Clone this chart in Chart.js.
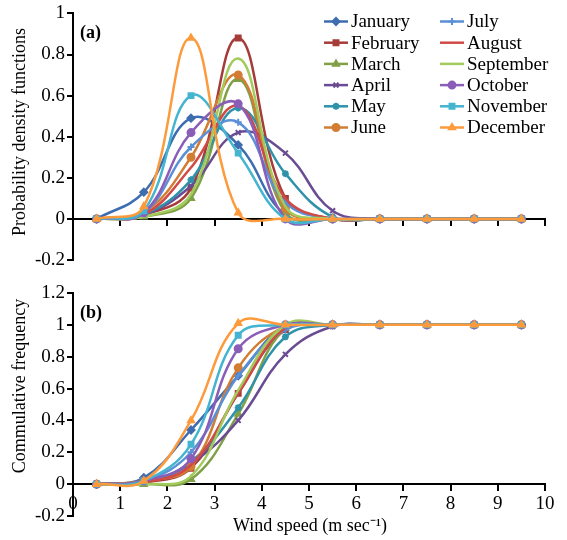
<!DOCTYPE html>
<html>
<head>
<meta charset="utf-8">
<script src="https://cdn.jsdelivr.net/npm/chart.js@4.4.1/dist/chart.umd.min.js"></script>
<style>
  html, body { margin: 0; padding: 0; background: #fff; }
  #wrap { position: relative; width: 567px; height: 540px; }
  #wrap canvas { position: absolute; left: 0; top: 0; }
</style>
</head>
<body>
<div id="wrap">
  <canvas id="pdf" width="567" height="540"></canvas>
  <canvas id="cdf" width="567" height="540"></canvas>
</div>
<script>
// wind speed bins (m/s)
const windSpeed = [0.5, 1.5, 2.5, 3.5, 4.5, 5.5, 6.5, 7.5, 8.5, 9.5]
const months = ["January", "February", "March", "April", "May", "June",
  "July", "August", "September", "October", "November", "December"]

// (a) probability density
const pdfJanuary   = [0, 0.13, 0.49, 0.36, 0.02, 0, 0, 0, 0, 0]
const pdfFebruary  = [0, 0.02, 0.15, 0.88, 0.10, 0, 0, 0, 0, 0]
const pdfMarch     = [0, 0.01, 0.10, 0.68, 0.03, 0, 0, 0, 0, 0]
const pdfApril     = [0, 0.02, 0.16, 0.42, 0.32, 0.04, 0, 0, 0, 0]
const pdfMay       = [0, 0.02, 0.19, 0.54, 0.22, 0.01, 0, 0, 0, 0]
const pdfJune      = [0, 0.03, 0.30, 0.70, 0.05, 0, 0, 0, 0, 0]
const pdfJuly      = [0, 0.03, 0.35, 0.47, 0.08, 0, 0, 0, 0, 0]
const pdfAugust    = [0, 0.02, 0.25, 0.55, 0.10, 0, 0, 0, 0, 0]
const pdfSeptember = [0, 0.01, 0.12, 0.78, 0.06, 0, 0, 0, 0, 0]
const pdfOctober   = [0, 0.03, 0.42, 0.56, 0, 0, 0, 0, 0, 0]
const pdfNovember  = [0, 0.04, 0.60, 0.32, 0, 0, 0, 0, 0, 0]
const pdfDecember  = [0, 0.06, 0.88, 0.03, 0, 0, 0, 0, 0, 0]

// (b) cumulative frequency
const cdfJanuary   = [0, 0.04, 0.34, 0.68, 0.99, 1, 1, 1, 1, 1]
const cdfFebruary  = [0, 0.01, 0.10, 0.57, 0.97, 1, 1, 1, 1, 1]
const cdfMarch     = [0, 0, 0.03, 0.44, 0.98, 1, 1, 1, 1, 1]
const cdfApril     = [0, 0.01, 0.13, 0.40, 0.815, 0.99, 1, 1, 1, 1]
const cdfMay       = [0, 0.01, 0.14, 0.48, 0.925, 1, 1, 1, 1, 1]
const cdfJune      = [0, 0.02, 0.11, 0.73, 0.99, 1, 1, 1, 1, 1]
const cdfJuly      = [0, 0.02, 0.20, 0.68, 0.97, 1, 1, 1, 1, 1]
const cdfAugust    = [0, 0.01, 0.12, 0.57, 0.98, 1, 1, 1, 1, 1]
const cdfSeptember = [0, 0, 0.05, 0.59, 1, 1, 1, 1, 1, 1]
const cdfOctober   = [0, 0.02, 0.16, 0.85, 1, 1, 1, 1, 1, 1]
const cdfNovember  = [0, 0.02, 0.25, 0.935, 1, 1, 1, 1, 1, 1]
const cdfDecember  = [0, 0.02, 0.40, 1.01, 1, 1, 1, 1, 1, 1]

const yTicksPdf = { min: -0.2, max: 1, step: 0.2 }
const yTicksCdf = { min: -0.2, max: 1.2, step: 0.2 }

const pdfSeries = [pdfJanuary, pdfFebruary, pdfMarch, pdfApril, pdfMay, pdfJune,
  pdfJuly, pdfAugust, pdfSeptember, pdfOctober, pdfNovember, pdfDecember]
const cdfSeries = [cdfJanuary, cdfFebruary, cdfMarch, cdfApril, cdfMay, cdfJune,
  cdfJuly, cdfAugust, cdfSeptember, cdfOctober, cdfNovember, cdfDecember]

const colors = ["#3d6db0", "#a63c3a", "#7fa047", "#6a4c93", "#2e92aa", "#d27d33",
  "#5b8fd6", "#d04b48", "#a2cb5c", "#8a5eb8", "#44b4d0", "#fd9a3b"]
const markers = ["rectRot", "rect", "triangle", "crossRot", "star", "circle",
  "cross", false, false, "circle", "rect", "triangle"]

const FONT = "'Liberation Serif', 'Times New Roman', serif"

function buildDatasets(series) {
  return series.map((values, i) => ({
    label: months[i],
    data: windSpeed.map((x, k) => ({ x: x, y: values[k] })),
    borderColor: colors[i],
    backgroundColor: colors[i],
    borderWidth: 2.5,
    tension: 0.4,
    pointStyle: markers[i] || "circle",
    pointRadius: markers[i] ? 3.5 : 0,
    pointBorderWidth: 2,
    order: 12 - i
  }))
}

function drawMarker(ctx, style, color, x, y) {
  ctx.strokeStyle = color
  ctx.fillStyle = color
  ctx.lineWidth = 2
  if (Chart.helpers && Chart.helpers.drawPoint) {
    Chart.helpers.drawPoint(ctx, { pointStyle: style, radius: 3.5, borderWidth: 2, rotation: 0 }, x, y)
  }
}

const annotate = {
  id: "annotate",
  afterDraw(chart, args, opts) {
    const ctx = chart.ctx
    ctx.save()
    ctx.fillStyle = "#000"
    ctx.textBaseline = "middle"

    ctx.font = "bold 18px " + FONT
    ctx.textAlign = "left"
    ctx.fillText(opts.panel, 80, opts.panelY)

    // y axis title
    ctx.font = "18px " + FONT
    ctx.save()
    ctx.translate(20, opts.titleY)
    ctx.rotate(-Math.PI / 2)
    ctx.textAlign = "center"
    ctx.fillText(opts.title, 0, 0)
    ctx.restore()

    if (opts.xTitle) {
      ctx.textAlign = "center"
      ctx.fillText(opts.xTitle, 310, 526)
    }

    if (opts.legend) {
      ctx.font = "19px " + FONT
      ctx.textAlign = "left"
      months.forEach((m, i) => {
        const col = Math.floor(i / 6)
        const row = i % 6
        const x0 = col === 0 ? 324 : 440
        const y0 = 21.5 + row * 21.2
        ctx.strokeStyle = colors[i]
        ctx.lineWidth = 2.5
        ctx.beginPath()
        ctx.moveTo(x0, y0)
        ctx.lineTo(x0 + 24, y0)
        ctx.stroke()
        if (markers[i]) drawMarker(ctx, markers[i], colors[i], x0 + 12, y0)
        ctx.fillStyle = "#000"
        ctx.fillText(m, x0 + 27, y0 + 1)
      })
    }
    ctx.restore()
  }
}

const fmt = v => String(Number(v.toFixed(1)))

function makeChart(id, series, yRange, showXLabels, padding, extra) {
  return new Chart(document.getElementById(id), {
    type: "line",
    data: { datasets: buildDatasets(series) },
    plugins: [annotate],
    options: {
      responsive: false,
      animation: false,
      layout: { padding: padding },
      plugins: {
        legend: { display: false },
        tooltip: { enabled: false },
        annotate: extra
      },
      scales: {
        x: {
          type: "linear",
          min: 0,
          max: 10,
          position: { y: 0 },
          ticks: {
            stepSize: 1,
            color: showXLabels ? "#000" : "rgba(0,0,0,0)",
            padding: 2,
            maxRotation: 0,
            font: { family: FONT, size: 19 },
            callback: fmt
          },
          grid: { drawOnChartArea: false, drawTicks: true, tickLength: 6, color: "#000", lineWidth: 2 },
          border: { color: "#000", width: 2 }
        },
        y: {
          min: yRange.min,
          max: yRange.max,
          ticks: {
            stepSize: yRange.step,
            color: "#000",
            padding: 2,
            font: { family: FONT, size: 19 },
            callback: fmt
          },
          grid: { drawOnChartArea: false, drawTicks: true, tickLength: 6, color: "#000", lineWidth: 2 },
          border: { color: "#000", width: 2 },
          afterFit(scale) { scale.width = 73 }
        }
      }
    }
  })
}

makeChart("pdf", pdfSeries, yTicksPdf, false,
  { left: 0, right: 22, top: 12, bottom: 280 },
  { panel: "(a)", panelY: 33, title: "Probability density functions", titleY: 132, legend: true })

makeChart("cdf", cdfSeries, yTicksCdf, true,
  { left: 0, right: 22, top: 293, bottom: 24 },
  { panel: "(b)", panelY: 313, title: "Commulative frequency", titleY: 386, xTitle: "Wind speed (m sec\u207B\u00B9)" })
</script>
</body>
</html>
